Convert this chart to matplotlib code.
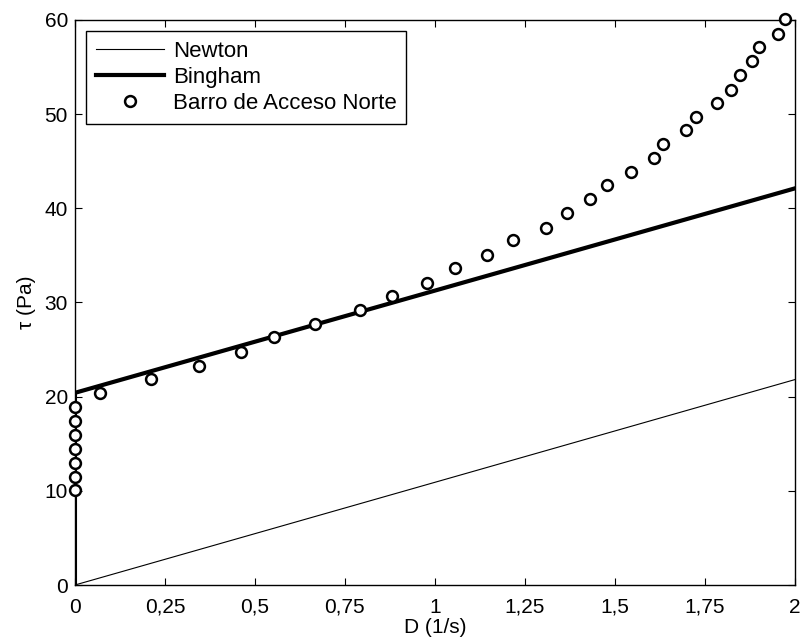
import matplotlib.pyplot as plt

plt.rcParams['font.family'] = ['Liberation Sans', 'DejaVu Sans']

# modelos
newton_x = [0, 2]
newton_y = [0, 21.8]
bingham_x = [0, 0, 2]
bingham_y = [0, 20.4, 42.1]

# datos medidos
D = [0, 0, 0, 0, 0, 0, 0,
     0.070, 0.210, 0.345, 0.460, 0.552, 0.667, 0.791, 0.881, 0.979, 1.056,
     1.146, 1.218, 1.309, 1.368, 1.432, 1.479, 1.544, 1.608, 1.634, 1.699,
     1.725, 1.784, 1.823, 1.849, 1.881, 1.901, 1.953, 1.973]
tau = [10.05, 11.5, 12.95, 14.45, 15.95, 17.45, 18.85,
       20.35, 21.9, 23.25, 24.7, 26.3, 27.7, 29.2, 30.65, 32.1, 33.6,
       35.0, 36.6, 37.9, 39.5, 40.95, 42.5, 43.86, 45.3, 46.8, 48.25,
       49.7, 51.2, 52.6, 54.1, 55.6, 57.1, 58.5, 60.05]

fig = plt.figure(figsize=(8.06, 6.43), dpi=100)
ax = fig.add_axes([0.093, 0.0902, 0.893, 0.879])

ax.plot(newton_x, newton_y, color='black', linewidth=0.8, label='Newton')
ax.plot(bingham_x, bingham_y, color='black', linewidth=3, label='Bingham')
ax.plot(D, tau, linestyle='none', marker='o', markersize=7.8,
        markerfacecolor='white', markeredgecolor='black', markeredgewidth=1.8,
        label='Barro de Acceso Norte', clip_on=False, zorder=3)

ax.set_xlim(0, 2)
ax.set_ylim(0, 60)
xt = [0, 0.25, 0.5, 0.75, 1, 1.25, 1.5, 1.75, 2]
ax.set_xticks(xt)
ax.set_xticklabels(['0', '0,25', '0,5', '0,75', '1', '1,25', '1,5', '1,75', '2'])
ax.set_yticks([0, 10, 20, 30, 40, 50, 60])
ax.tick_params(direction='in', top=True, right=True, length=5, width=0.8,
               labelsize=15)
ax.tick_params(axis='x', pad=9)
ax.tick_params(axis='y', pad=5)
for s in ax.spines.values():
    s.set_linewidth(1.0)

ax.set_xlabel('D (1/s)', fontsize=15, labelpad=1)
ax.set_ylabel('τ (Pa)', fontsize=15, labelpad=6)

leg = ax.legend(loc='upper left', bbox_to_anchor=(0.0153, 0.9805), borderaxespad=0,
                fontsize=16, fancybox=False, edgecolor='black', framealpha=1,
                handlelength=3.05, labelspacing=0.23, borderpad=0.45, handletextpad=0.4)
leg.get_frame().set_linewidth(1.0)

plt.savefig('out.png', dpi=100)
